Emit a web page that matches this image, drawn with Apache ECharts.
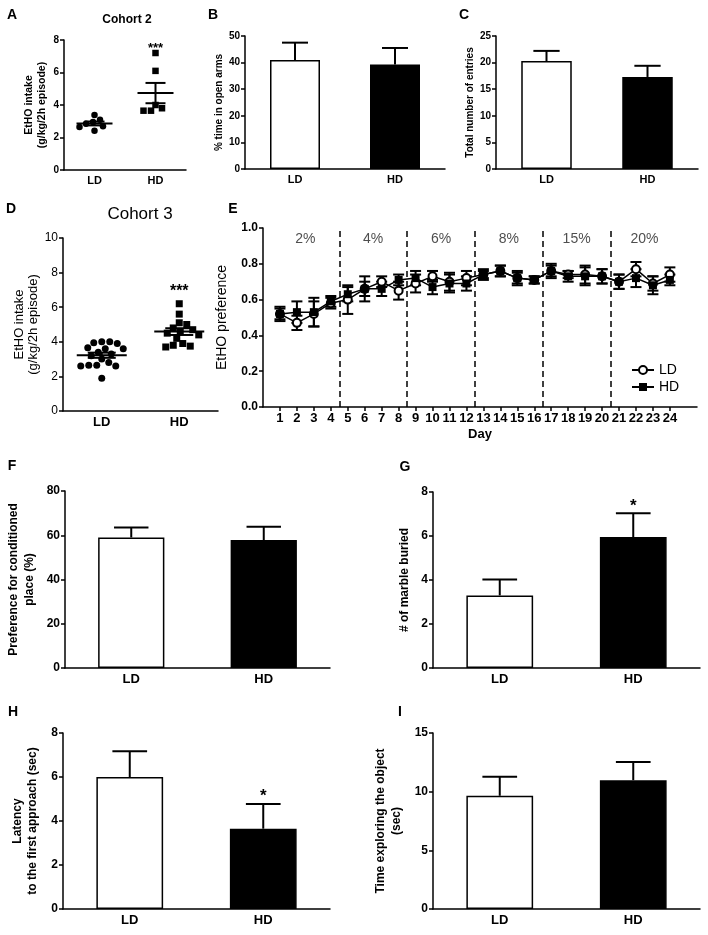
<!DOCTYPE html>
<html><head><meta charset="utf-8">
<script src="https://cdn.jsdelivr.net/npm/echarts@6/dist/echarts.min.js"></script>
<style>html,body{margin:0;padding:0;background:#fff}#c{width:708px;height:935px}</style>
</head><body><div id="c"></div>
<script>
// ---------------- data ----------------
const groups = ['LD', 'HD'];
// A: Cohort 2 individual EtOH intake (g/kg/2h)
const aLD = [3.38, 3.10, 2.95, 2.85, 2.70, 2.65, 2.42];
const aHD = [7.2, 6.1, 4.0, 3.8, 3.65, 3.65];
const aSig = ['', '***'];
// B: % time in open arms
const bMean = [41.0, 39.3];
const bSem = [6.5, 6.2];
// C: total number of entries
const cMean = [20.3, 17.3];
const cSem = [1.9, 2.1];
// D: Cohort 3 individual EtOH intake
const dLD = [4.0, 4.0, 3.95, 3.9, 3.65, 3.6, 3.6, 3.4, 3.3, 3.2, 3.0, 2.8, 2.65, 2.65, 2.6, 2.6, 1.9];
const dHD = [6.2, 5.6, 5.1, 5.0, 4.8, 4.7, 4.6, 4.5, 4.4, 4.2, 3.9, 3.8, 3.75, 3.7];
const dSig = ['', '***'];
// E: EtOH preference over days
const days = [1,2,3,4,5,6,7,8,9,10,11,12,13,14,15,16,17,18,19,20,21,22,23,24];
const eLD = [0.52,0.47,0.52,0.58,0.60,0.66,0.70,0.65,0.69,0.73,0.70,0.72,0.74,0.76,0.72,0.71,0.76,0.74,0.74,0.73,0.70,0.77,0.69,0.74];
const eLDsem = [0.04,0.04,0.07,0.03,0.08,0.04,0.03,0.05,0.05,0.03,0.05,0.04,0.03,0.03,0.03,0.02,0.03,0.02,0.05,0.04,0.04,0.04,0.04,0.04];
const eHD = [0.52,0.53,0.53,0.59,0.63,0.66,0.66,0.71,0.72,0.67,0.69,0.69,0.74,0.76,0.72,0.71,0.76,0.73,0.73,0.73,0.70,0.72,0.68,0.71];
const eHDsem = [0.03,0.06,0.08,0.03,0.04,0.07,0.04,0.03,0.04,0.04,0.05,0.04,0.02,0.03,0.04,0.02,0.04,0.03,0.05,0.04,0.04,0.05,0.05,0.03];
const concLabels = ['2%', '4%', '6%', '8%', '15%', '20%'];
const concBounds = [4.5, 8.5, 12.5, 16.5, 20.5];
// F: preference for conditioned place (%)
const fMean = [59.0, 57.8];
const fSem = [4.5, 6.0];
// G: # of marble buried
const gMean = [3.3, 5.95];
const gSem = [0.72, 1.08];
const gSig = ['', '*'];
// H: latency to first approach (sec)
const hMean = [6.0, 3.65];
const hSem = [1.17, 1.12];
const hSig = ['', '*'];
// I: time exploring the object (sec)
const iMean = [9.65, 10.98];
const iSem = [1.62, 1.55];

// y axis ticks [min, max, interval]
const aY = [0, 8, 2], bY = [0, 50, 10], cY = [0, 25, 5], dY = [0, 10, 2], eY = [0, 1, 0.2];
const fY = [0, 80, 20], gY = [0, 8, 2], hY = [0, 8, 2], iY = [0, 15, 5];

// ---------------- helpers ----------------
const FF = '"Liberation Sans", Arial, Helvetica, sans-serif';
const BLACK = '#000';
const grids = [
  {left: 64,  top: 40,  width: 122, height: 130}, // A
  {left: 245, top: 36,  width: 200, height: 133}, // B
  {left: 496, top: 36,  width: 202, height: 133}, // C
  {left: 63,  top: 238, width: 155, height: 173}, // D
  {left: 263, top: 228, width: 434, height: 179}, // E
  {left: 65,  top: 491, width: 265, height: 177}, // F
  {left: 433, top: 492, width: 267, height: 176}, // G
  {left: 63,  top: 733, width: 267, height: 176}, // H
  {left: 433, top: 733, width: 267, height: 176}  // I
];

function mean(a) { return a.reduce((s, v) => s + v, 0) / a.length; }
function sem(a) {
  const m = mean(a);
  const sd = Math.sqrt(a.reduce((s, v) => s + (v - m) * (v - m), 0) / (a.length - 1));
  return sd / Math.sqrt(a.length);
}

function catX(i, fs, bold) {
  return {
    gridIndex: i, type: 'category', data: groups, boundaryGap: true,
    axisLine: {lineStyle: {color: BLACK, width: 1.5}},
    axisTick: {alignWithLabel: true, length: 4, lineStyle: {color: BLACK, width: 1.5}},
    axisLabel: {color: BLACK, fontSize: fs, fontWeight: bold ? 'bold' : 'normal', fontFamily: FF, margin: 5},
    splitLine: {show: false}
  };
}
function valY(i, r, fs, bold, name, nfs, nbold, gap, lh, fmt) {
  return {
    gridIndex: i, type: 'value', min: r[0], max: r[1], interval: r[2],
    axisLine: {show: true, lineStyle: {color: BLACK, width: 1.5}},
    axisTick: {show: true, length: 4, lineStyle: {color: BLACK, width: 1.5}},
    axisLabel: {color: BLACK, fontSize: fs, fontWeight: bold ? 'bold' : 'normal', fontFamily: FF, margin: 5,
      formatter: fmt || (v => String(v))},
    splitLine: {show: false},
    name: name, nameLocation: 'middle', nameRotate: 90, nameGap: gap,
    nameTextStyle: {color: BLACK, fontSize: nfs, fontWeight: nbold ? 'bold' : 'normal', fontFamily: FF, lineHeight: lh, align: 'center'}
  };
}

function barSeries(i, m) {
  return {
    type: 'bar', xAxisIndex: i, yAxisIndex: i, barWidth: '50%', silent: true,
    data: m.map((v, k) => ({value: v, itemStyle: {color: k ? BLACK : '#fff'}})),
    itemStyle: {borderColor: BLACK, borderWidth: 1.5}, z: 2
  };
}
function errSeries(i, m, s, sig, starFs, starOff) {
  sig = sig || ['', ''];
  return {
    type: 'custom', xAxisIndex: i, yAxisIndex: i, silent: true, z: 3,
    data: m.map((v, k) => [k, v, v + s[k]]),
    encode: {x: 0, y: [1, 2]},
    renderItem: (params, api) => {
      const k = api.value(0);
      const p0 = api.coord([k, api.value(1)]);
      const p1 = api.coord([k, api.value(2)]);
      const cw = api.size([1, 0])[0] * 0.5 * 0.52;
      const ch = [
        {type: 'line', shape: {x1: p0[0], y1: p0[1], x2: p1[0], y2: p1[1]}, style: {stroke: BLACK, lineWidth: 2}},
        {type: 'line', shape: {x1: p1[0] - cw / 2, y1: p1[1], x2: p1[0] + cw / 2, y2: p1[1]}, style: {stroke: BLACK, lineWidth: 2}}
      ];
      if (sig[k]) ch.push({type: 'text', x: p1[0], y: p1[1] + starOff,
        style: {text: sig[k], fill: BLACK, font: 'bold ' + starFs + 'px ' + FF,
          align: 'center', verticalAlign: 'bottom', textAlign: 'center', textVerticalAlign: 'bottom'}});
      return {type: 'group', children: ch};
    }
  };
}

function swarm(vals, pxPerUnit, d) {
  const order = vals.map((v, i) => i).sort((a, b) => vals[b] - vals[a]);
  const placed = [];
  const off = new Array(vals.length).fill(0);
  for (const i of order) {
    const y = vals[i] * pxPerUnit;
    for (let s = 0; s < 400; s++) {
      const dx = (s % 2 ? 1 : -1) * Math.ceil(s / 2) * 0.5;
      if (placed.every(p => Math.hypot(p[0] - dx, p[1] - y) >= d)) {
        off[i] = dx; placed.push([dx, y]); break;
      }
    }
  }
  return off;
}

function dotSeries(i, ld, hd, r, size) {
  const ppu = grids[i].height / (r[1] - r[0]);
  const oL = swarm(ld, ppu, size + 0.6), oH = swarm(hd, ppu, size + 0.6);
  const data = ld.map((v, k) => [0, v, oL[k], 0]).concat(hd.map((v, k) => [1, v, oH[k], 1]));
  return {
    type: 'custom', xAxisIndex: i, yAxisIndex: i, silent: true, z: 3,
    data: data, encode: {x: 0, y: 1},
    renderItem: (params, api) => {
      const p = api.coord([api.value(0), api.value(1)]);
      const x = p[0] + api.value(2);
      if (api.value(3) === 0) {
        return {type: 'circle', shape: {cx: x, cy: p[1], r: size / 2}, style: {fill: BLACK}};
      }
      return {type: 'rect', shape: {x: x - size / 2, y: p[1] - size / 2, width: size, height: size}, style: {fill: BLACK}};
    }
  };
}
function meanSemSeries(i, ld, hd, mw, cw, sig, starFs, starOff) {
  const sets = [ld, hd];
  return {
    type: 'custom', xAxisIndex: i, yAxisIndex: i, silent: true, z: 4,
    data: sets.map((a, k) => [k, mean(a), sem(a), Math.max.apply(null, a)]),
    encode: {x: 0, y: 1},
    renderItem: (params, api) => {
      const k = api.value(0), m = api.value(1), s = api.value(2);
      const pm = api.coord([k, m]), pt = api.coord([k, m + s]), pb = api.coord([k, m - s]);
      const ptop = api.coord([k, api.value(3)]);
      const st = {stroke: BLACK, lineWidth: 2};
      const ch = [
        {type: 'line', shape: {x1: pm[0] - mw / 2, y1: pm[1], x2: pm[0] + mw / 2, y2: pm[1]}, style: st},
        {type: 'line', shape: {x1: pt[0], y1: pt[1], x2: pb[0], y2: pb[1]}, style: st},
        {type: 'line', shape: {x1: pt[0] - cw / 2, y1: pt[1], x2: pt[0] + cw / 2, y2: pt[1]}, style: st},
        {type: 'line', shape: {x1: pb[0] - cw / 2, y1: pb[1], x2: pb[0] + cw / 2, y2: pb[1]}, style: st}
      ];
      if (sig[k]) ch.push({type: 'text', x: ptop[0], y: ptop[1] + starOff,
        style: {text: sig[k], fill: BLACK, font: 'bold ' + starFs + 'px ' + FF,
          align: 'center', verticalAlign: 'bottom', textAlign: 'center', textVerticalAlign: 'bottom'}});
      return {type: 'group', children: ch};
    }
  };
}

function txt(t, x, y, font, align, color) {
  return {type: 'text', x: x, y: y, silent: true,
    style: {text: t, font: font, fill: color || BLACK, align: align || 'center', verticalAlign: 'middle',
      textAlign: align || 'center', textVerticalAlign: 'middle'}};
}

// ---------------- E specific ----------------
const eEdges = [0.5].concat(concBounds, [24.5]);
const eMid = concLabels.map((l, k) => (eEdges[k] + eEdges[k + 1]) / 2);

const eErr = (vals, sems) => ({
  type: 'custom', xAxisIndex: 4, yAxisIndex: 4, silent: true, z: 2,
  data: days.map((d, k) => [d, vals[k], sems[k]]),
  encode: {x: 0, y: 1},
  renderItem: (params, api) => {
    const d = api.value(0), m = api.value(1), s = api.value(2);
    const pt = api.coord([d, m + s]), pb = api.coord([d, m - s]);
    const cw = 11, st = {stroke: BLACK, lineWidth: 2};
    return {type: 'group', children: [
      {type: 'line', shape: {x1: pt[0], y1: pt[1], x2: pb[0], y2: pb[1]}, style: st},
      {type: 'line', shape: {x1: pt[0] - cw / 2, y1: pt[1], x2: pt[0] + cw / 2, y2: pt[1]}, style: st},
      {type: 'line', shape: {x1: pb[0] - cw / 2, y1: pb[1], x2: pb[0] + cw / 2, y2: pb[1]}, style: st}
    ]};
  }
});

// ---------------- option ----------------
const xAxes = [
  catX(0, 11, true), catX(1, 11, true), catX(2, 11, true), catX(3, 13, true),
  {
    gridIndex: 4, type: 'value', min: 0, max: 25.6,
    axisLine: {lineStyle: {color: BLACK, width: 1.5}},
    axisTick: {show: true, length: 4, customValues: days, lineStyle: {color: BLACK, width: 1.5}},
    axisLabel: {customValues: days, color: BLACK, fontSize: 13, fontWeight: 'bold', fontFamily: FF, margin: 5},
    splitLine: {show: false},
    name: 'Day', nameLocation: 'middle', nameGap: 21,
    nameTextStyle: {color: BLACK, fontSize: 13, fontWeight: 'bold', fontFamily: FF}
  },
  catX(5, 13, true), catX(6, 13, true), catX(7, 13, true), catX(8, 13, true)
];
const yAxes = [
  valY(0, aY, 10, true, 'EtHO intake\n(g/kg/2h episode)', 10.5, true, 15, 13),
  valY(1, bY, 10, true, '% time in open arms', 10, true, 20, 12),
  valY(2, cY, 10, true, 'Total number of entries', 10, true, 20, 12),
  valY(3, dY, 12, false, 'EtHO intake\n(g/kg/2h episode)', 13, false, 15, 14),
  valY(4, eY, 12, true, 'EtHO preference', 14, false, 22, 16, v => v.toFixed(1)),
  valY(5, fY, 12, true, 'Preference for conditioned\nplace (%)', 12, true, 27, 16),
  valY(6, gY, 12, true, '# of marble buried', 12, true, 21, 15),
  valY(7, hY, 12, true, 'Latency\nto the first approach (sec)', 12, true, 23, 15),
  valY(8, iY, 12, true, 'Time exploring the object\n(sec)', 12, true, 28, 16)
];

const series = [
  // A
  dotSeries(0, aLD, aHD, aY, 6.5),
  meanSemSeries(0, aLD, aHD, 36, 20, aSig, 13, 2),
  // B, C
  barSeries(1, bMean), errSeries(1, bMean, bSem),
  barSeries(2, cMean), errSeries(2, cMean, cSem),
  // D
  dotSeries(3, dLD, dHD, dY, 7),
  meanSemSeries(3, dLD, dHD, 50, 28, dSig, 16, -4),
  // E
  eErr(eLD, eLDsem), eErr(eHD, eHDsem),
  {
    type: 'line', name: 'LD', xAxisIndex: 4, yAxisIndex: 4, z: 4, silent: true,
    data: days.map((d, k) => [d, eLD[k]]),
    symbol: 'circle', symbolSize: 8, showSymbol: true,
    itemStyle: {color: '#fff', borderColor: BLACK, borderWidth: 2},
    lineStyle: {color: BLACK, width: 1.5}
  },
  {
    type: 'line', name: 'HD', xAxisIndex: 4, yAxisIndex: 4, z: 4, silent: true,
    data: days.map((d, k) => [d, eHD[k]]),
    symbol: 'rect', symbolSize: 8, showSymbol: true,
    itemStyle: {color: BLACK},
    lineStyle: {color: BLACK, width: 1.5},
    markLine: {
      silent: true, symbol: ['none', 'none'], label: {show: false},
      lineStyle: {color: BLACK, type: [6, 4], width: 1.5},
      data: concBounds.map(v => ({xAxis: v}))
    }
  },
  {
    type: 'scatter', xAxisIndex: 4, yAxisIndex: 4, symbolSize: 0, silent: true, z: 5,
    data: concLabels.map((l, k) => ({name: l, value: [eMid[k], 0.94]})),
    label: {show: true, position: 'inside', formatter: p => p.name, color: '#222', fontSize: 14, fontFamily: FF}
  },
  // F, G, H, I
  barSeries(5, fMean), errSeries(5, fMean, fSem),
  barSeries(6, gMean), errSeries(6, gMean, gSem, gSig, 17, 1),
  barSeries(7, hMean), errSeries(7, hMean, hSem, hSig, 17, 1),
  barSeries(8, iMean), errSeries(8, iMean, iSem)
];

const LF = 'bold 14px ' + FF;
const option = {
  animation: false,
  backgroundColor: '#fff',
  grid: grids.map(g => Object.assign({containLabel: false}, g)),
  xAxis: xAxes,
  yAxis: yAxes,
  legend: {
    data: ['LD', 'HD'], orient: 'vertical', left: 626, top: 358,
    itemWidth: 22, itemHeight: 10, itemGap: 3,
    textStyle: {color: BLACK, fontSize: 14, fontFamily: FF}, selectedMode: false
  },
  series: series,
  graphic: [
    txt('A', 12, 15, LF, 'center'),
    txt('Cohort 2', 127, 20, 'bold 12px ' + FF),
    txt('B', 213, 15, LF),
    txt('C', 464, 15, LF),
    txt('D', 11, 209, LF),
    txt('Cohort 3', 140, 214, '17px ' + FF),
    txt('E', 233, 209, LF),
    txt('F', 12, 466, LF),
    txt('G', 405, 467, LF),
    txt('H', 13, 712, LF),
    txt('I', 400, 712, LF)
  ]
};

const chart = echarts.init(document.getElementById('c'), null, {renderer: 'canvas'});
chart.setOption(option);
</script>
</body></html>
